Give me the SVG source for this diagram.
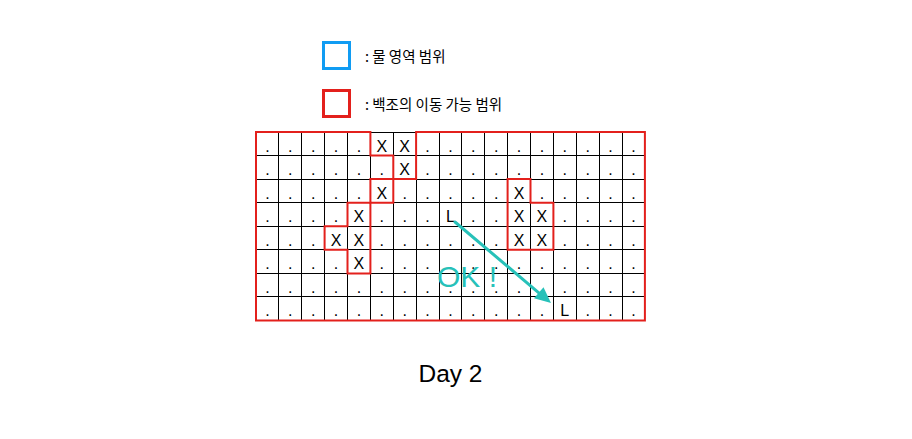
<svg xmlns="http://www.w3.org/2000/svg" width="912" height="439" viewBox="0 0 912 439">
<style>
  .grid { stroke: #000; stroke-width: 1; fill: none; shape-rendering: crispEdges; }
  .red { stroke: #e3201c; stroke-width: 2; fill: none; stroke-linejoin: miter; }
  .cell { font-family: "Liberation Sans", Arial, sans-serif; font-size: 16px; fill: #000; text-anchor: middle; }
  .legend { font-family: "Noto Sans CJK KR", "Liberation Sans", sans-serif; font-size: 14.5px; fill: #000; }
  .teal { fill: #27c1b9; }
</style>
<defs>
  <marker id="ah" viewBox="0 0 16 14" refX="16" refY="7" markerWidth="16" markerHeight="14" markerUnits="userSpaceOnUse" orient="auto">
    <path d="M0,0 L16,7 L0,14 Z" fill="#27c1b9"/>
  </marker>
</defs>
<rect width="912" height="439" fill="#fff"/>

<g id="legend">
  <g id="legend-water">
    <rect x="323.5" y="42.5" width="26" height="26" fill="none" stroke="#109cf3" stroke-width="3"/>
    <text class="legend" x="365" y="61.5">: 물 영역 범위</text>
  </g>
  <g id="legend-swan">
    <rect x="323.5" y="90.5" width="26" height="26" fill="none" stroke="#e3201c" stroke-width="3"/>
    <text class="legend" x="365" y="110">: 백조의 이동 가능 범위</text>
  </g>
</g>

<g id="grid">
  <path class="grid" d="M256,132H644.9 M256,155.6H644.9 M256,179.1H644.9 M256,202.7H644.9 M256,226.3H644.9 M256,249.8H644.9 M256,273.4H644.9 M256,296.9H644.9 M256,320.5H644.9
  M256,132V320.5 M278.9,132V320.5 M301.8,132V320.5 M324.6,132V320.5 M347.5,132V320.5 M370.4,132V320.5 M393.3,132V320.5 M416.1,132V320.5 M439,132V320.5 M461.9,132V320.5 M484.8,132V320.5 M507.6,132V320.5 M530.5,132V320.5 M553.4,132V320.5 M576.3,132V320.5 M599.1,132V320.5 M622,132V320.5 M644.9,132V320.5"/>
</g>

<g id="swan-range">
  <path class="red" d="M256,132 H370.4 V155.6 H393.3 V179.1 H416.1 V132 H644.9 V320.5 H256 Z"/>
  <path class="red" d="M370.4,179.1 H393.3 V202.7 H370.4 Z"/>
  <path class="red" d="M347.5,202.7 H370.4 V273.4 H347.5 V249.8 H324.6 V226.3 H347.5 Z"/>
  <path class="red" d="M507.6,179.1 H530.5 V202.7 H553.4 V249.8 H507.6 Z"/>
</g>

<g id="cells">
  <text class="cell" x="267.4 290.3 313.2 336.1 358.9 381.8 404.7 427.6 450.4 473.3 496.2 519.1 541.9 564.8 587.7 610.6 633.4" y="151.5">.....XX..........</text>
  <text class="cell" x="267.4 290.3 313.2 336.1 358.9 381.8 404.7 427.6 450.4 473.3 496.2 519.1 541.9 564.8 587.7 610.6 633.4" y="175.1">......X..........</text>
  <text class="cell" x="267.4 290.3 313.2 336.1 358.9 381.8 404.7 427.6 450.4 473.3 496.2 519.1 541.9 564.8 587.7 610.6 633.4" y="198.6">.....X.....X.....</text>
  <text class="cell" x="267.4 290.3 313.2 336.1 358.9 381.8 404.7 427.6 450.4 473.3 496.2 519.1 541.9 564.8 587.7 610.6 633.4" y="222.2">....X...L..XX....</text>
  <text class="cell" x="267.4 290.3 313.2 336.1 358.9 381.8 404.7 427.6 450.4 473.3 496.2 519.1 541.9 564.8 587.7 610.6 633.4" y="245.8">...XX......XX....</text>
  <text class="cell" x="267.4 290.3 313.2 336.1 358.9 381.8 404.7 427.6 450.4 473.3 496.2 519.1 541.9 564.8 587.7 610.6 633.4" y="269.3">....X............</text>
  <text class="cell" x="267.4 290.3 313.2 336.1 358.9 381.8 404.7 427.6 450.4 473.3 496.2 519.1 541.9 564.8 587.7 610.6 633.4" y="292.9">.................</text>
  <text class="cell" x="267.4 290.3 313.2 336.1 358.9 381.8 404.7 427.6 450.4 473.3 496.2 519.1 541.9 564.8 587.7 610.6 633.4" y="316.4">.............L...</text>
</g>

<g id="connectors">
  <line x1="455" y1="222" x2="540" y2="293.8" stroke="#27c1b9" stroke-width="3" stroke-linecap="round"/>
  <path d="M551,303 L534,298.2 L543.5,287.2 Z" fill="#27c1b9"/>
</g>

<g id="labels">
  <text class="teal" x="437" y="287" font-family="Liberation Sans, Arial, sans-serif" font-size="30">OK !</text>
  <text x="450.5" y="382" font-family="Liberation Sans, Arial, sans-serif" font-size="24.5" text-anchor="middle" fill="#000">Day 2</text>
</g>
</svg>
